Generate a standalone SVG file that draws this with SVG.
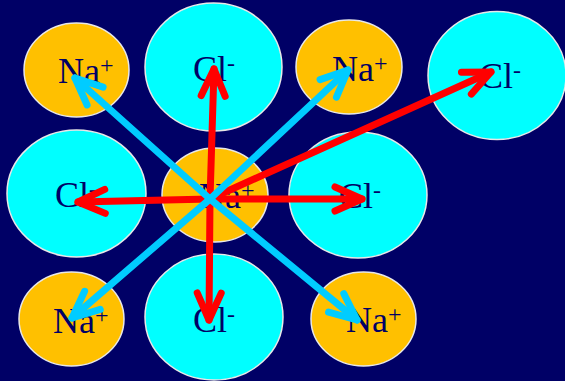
<svg xmlns="http://www.w3.org/2000/svg" width="565" height="381" viewBox="0 0 565 381">
<style>
.na{fill:#FFC000;stroke:#E8E8E8;stroke-width:1.5}
.cl{fill:#00FFFF;stroke:#E8E8E8;stroke-width:1.5}
text{font-family:"Liberation Serif","Times New Roman",serif;font-size:36px;fill:#000066}
.sup{font-size:24px}
.red{stroke:#FF0000;stroke-width:7;fill:none;stroke-linecap:round}
.blue{stroke:#00CCFF;stroke-width:7;fill:none;stroke-linecap:round}
</style>
<defs>
<marker id="ahR" markerUnits="userSpaceOnUse" markerWidth="40" markerHeight="40" viewBox="-32 -20 40 40" refX="0" refY="0" orient="auto">
<path d="M-27,-12 L0,0 L-27,12" fill="none" stroke="#FF0000" stroke-width="7" stroke-linecap="round" stroke-linejoin="round"/>
</marker>
<marker id="ahB" markerUnits="userSpaceOnUse" markerWidth="40" markerHeight="40" viewBox="-32 -20 40 40" refX="0" refY="0" orient="auto">
<path d="M-27,-12 L0,0 L-27,12" fill="none" stroke="#00CCFF" stroke-width="7" stroke-linecap="round" stroke-linejoin="round"/>
</marker>
</defs>
<rect width="565" height="381" fill="#000066"/>
<g id="na-tl"><ellipse class="na" cx="76.5" cy="70" rx="52.5" ry="47"/><text x="58" y="83">Na<tspan class="sup" dy="-10">+</tspan></text></g>
<g id="cl-top"><ellipse class="cl" cx="213.5" cy="67" rx="68.5" ry="64"/><text x="193" y="81">Cl<tspan class="sup" dy="-10">-</tspan></text></g>
<g id="na-tr"><ellipse class="na" cx="349" cy="67" rx="53" ry="47"/><text x="332" y="81">Na<tspan class="sup" dy="-10">+</tspan></text></g>
<g id="cl-far"><ellipse class="cl" cx="497" cy="75.5" rx="69" ry="64"/><text x="479" y="88">Cl<tspan class="sup" dy="-10">-</tspan></text></g>
<g id="cl-ml"><ellipse class="cl" cx="76.5" cy="193.5" rx="69.5" ry="63.5"/><text x="55" y="207">Cl<tspan class="sup" dy="-10">-</tspan></text></g>
<g id="na-c"><ellipse class="na" cx="215" cy="195" rx="53" ry="47"/><text x="199" y="208">Na<tspan class="sup" dy="-10">+</tspan></text></g>
<g id="cl-mr"><ellipse class="cl" cx="358" cy="195" rx="69" ry="63"/><text x="339" y="208">Cl<tspan class="sup" dy="-10">-</tspan></text></g>
<g id="na-bl"><ellipse class="na" cx="71.5" cy="319" rx="52.5" ry="47"/><text x="53" y="333">Na<tspan class="sup" dy="-10">+</tspan></text></g>
<g id="cl-bot"><ellipse class="cl" cx="214" cy="317" rx="69" ry="63"/><text x="193" y="332">Cl<tspan class="sup" dy="-10">-</tspan></text></g>
<g id="na-br"><ellipse class="na" cx="363.5" cy="319" rx="52.5" ry="47"/><text x="346" y="332">Na<tspan class="sup" dy="-10">+</tspan></text></g>
<g id="connectors">
<line class="red" x1="210" y1="199" x2="214" y2="69" marker-end="url(#ahR)"/>
<line class="red" x1="210" y1="199" x2="209" y2="320" marker-end="url(#ahR)"/>
<line class="red" x1="210" y1="199" x2="78" y2="202" marker-end="url(#ahR)"/>
<line class="red" x1="210" y1="199" x2="362" y2="199" marker-end="url(#ahR)"/>
<line class="red" x1="210" y1="199" x2="491" y2="72" marker-end="url(#ahR)"/>
<line class="blue" x1="210" y1="199" x2="75" y2="78" marker-end="url(#ahB)"/>
<line class="blue" x1="210" y1="199" x2="348" y2="70" marker-end="url(#ahB)"/>
<line class="blue" x1="210" y1="199" x2="72" y2="318" marker-end="url(#ahB)"/>
<line class="blue" x1="210" y1="199" x2="357" y2="320" marker-end="url(#ahB)"/>
</g>
</svg>
